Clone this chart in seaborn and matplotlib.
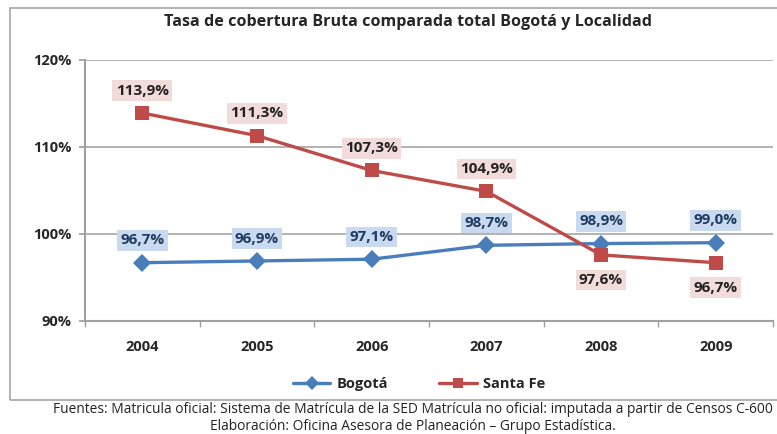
import pandas as pd
import matplotlib
matplotlib.use("Agg")
import matplotlib.pyplot as plt
from matplotlib.patches import Rectangle
import seaborn as sns

# Data
years = ["2004", "2005", "2006", "2007", "2008", "2009"]
bogota = [96.7, 96.9, 97.1, 98.7, 98.9, 99.0]
santa_fe = [113.9, 111.3, 107.3, 104.9, 97.6, 96.7]
santa_fe_label_below = [False, False, False, False, True, True]
y_ticks = [90, 100, 110, 120]

title = "Tasa de cobertura Bruta comparada total Bogotá y Localidad"
footer = ("Fuentes: Matricula oficial: Sistema de Matrícula de la SED Matrícula no oficial: "
          "imputada a partir de Censos C-600\n"
          "Elaboración: Oficina Asesora de Planeación – Grupo Estadística.")

BLUE = "#4A7EBB"
RED = "#BE4B48"
BLUE_BOX = "#C9DAF0"
RED_BOX = "#F2DCDB"

df = pd.DataFrame({
    "year": years * 2,
    "value": bogota + santa_fe,
    "serie": ["Bogotá"] * len(years) + ["Santa Fe"] * len(years),
})

sns.set_theme(style="white")
plt.rcParams["font.family"] = ["Open Sans", "DejaVu Sans"]

fig = plt.figure(figsize=(7.77, 4.34), dpi=100)
ax = fig.add_axes([0.1094, 0.2604, 0.8855, 0.6014])

sns.lineplot(data=df, x="year", y="value", hue="serie", style="serie",
             palette={"Bogotá": BLUE, "Santa Fe": RED},
             markers={"Bogotá": "D", "Santa Fe": "s"},
             dashes=False, linewidth=2.4, markersize=9.5,
             markeredgewidth=0, sort=False, ax=ax)

# data labels
for i, v in enumerate(bogota):
    ax.annotate(f"{v:.1f}%".replace(".", ","), (i, v), xytext=(0, 16),
                textcoords="offset points", ha="center", va="center",
                fontsize=11, fontweight="bold", color="#1F3B60",
                bbox=dict(boxstyle="square,pad=0.22", fc=BLUE_BOX, ec="none"))
for i, v in enumerate(santa_fe):
    dy = -18 if santa_fe_label_below[i] else 16
    ax.annotate(f"{v:.1f}%".replace(".", ","), (i, v), xytext=(0, dy),
                textcoords="offset points", ha="center", va="center",
                fontsize=11, fontweight="bold", color="#222222",
                bbox=dict(boxstyle="square,pad=0.22", fc=RED_BOX, ec="none"))

ax.set_xlim(-0.5, len(years) - 0.5)
ax.set_ylim(90, 120)
ax.set_yticks(y_ticks)
ax.set_yticklabels([f"{t}%" for t in y_ticks], fontsize=10.5, fontweight="bold")
ax.set_xticks(range(len(years)))
ax.set_xticklabels(years, fontsize=10.5, fontweight="bold")
ax.set_xticks([i - 0.5 for i in range(len(years) + 1)], minor=True)
ax.tick_params(axis="x", which="major", length=0, pad=14)
ax.tick_params(axis="x", which="minor", length=4, color="#A0A0A0", direction="out", bottom=True)
ax.tick_params(axis="y", length=4, color="#A0A0A0", direction="out", left=True, pad=6)
ax.set_xlabel("")
ax.set_ylabel("")

ax.yaxis.grid(True, color="#A6A6A6", linewidth=1.2)
ax.set_axisbelow(True)
for side in ["top", "right"]:
    ax.spines[side].set_visible(False)
for side in ["left", "bottom"]:
    ax.spines[side].set_color("#A0A0A0")
    ax.spines[side].set_linewidth(1.5)

leg = ax.legend(loc="center", bbox_to_anchor=(0.485, -0.24), ncol=2, frameon=False,
                fontsize=10.5, handlelength=2.6, handletextpad=0.4,
                columnspacing=3.5, markerscale=0.75)
for t in leg.get_texts():
    t.set_fontweight("bold")

# outer chart frame
fig.patches.append(Rectangle((10 / 777, 1 - 400 / 434), 770 / 777, 392 / 434,
                             transform=fig.transFigure, fill=False,
                             edgecolor="#A6A6A6", linewidth=1.2))

fig.text(0.525, 1 - 22 / 434, title, ha="center", va="center",
         fontsize=11.6, fontweight="bold")
fig.text(0.532, 1 - 418 / 434, footer, ha="center", va="center",
         fontsize=9.9, linespacing=1.15, color="#222222")

fig.savefig("out.png", dpi=100)
